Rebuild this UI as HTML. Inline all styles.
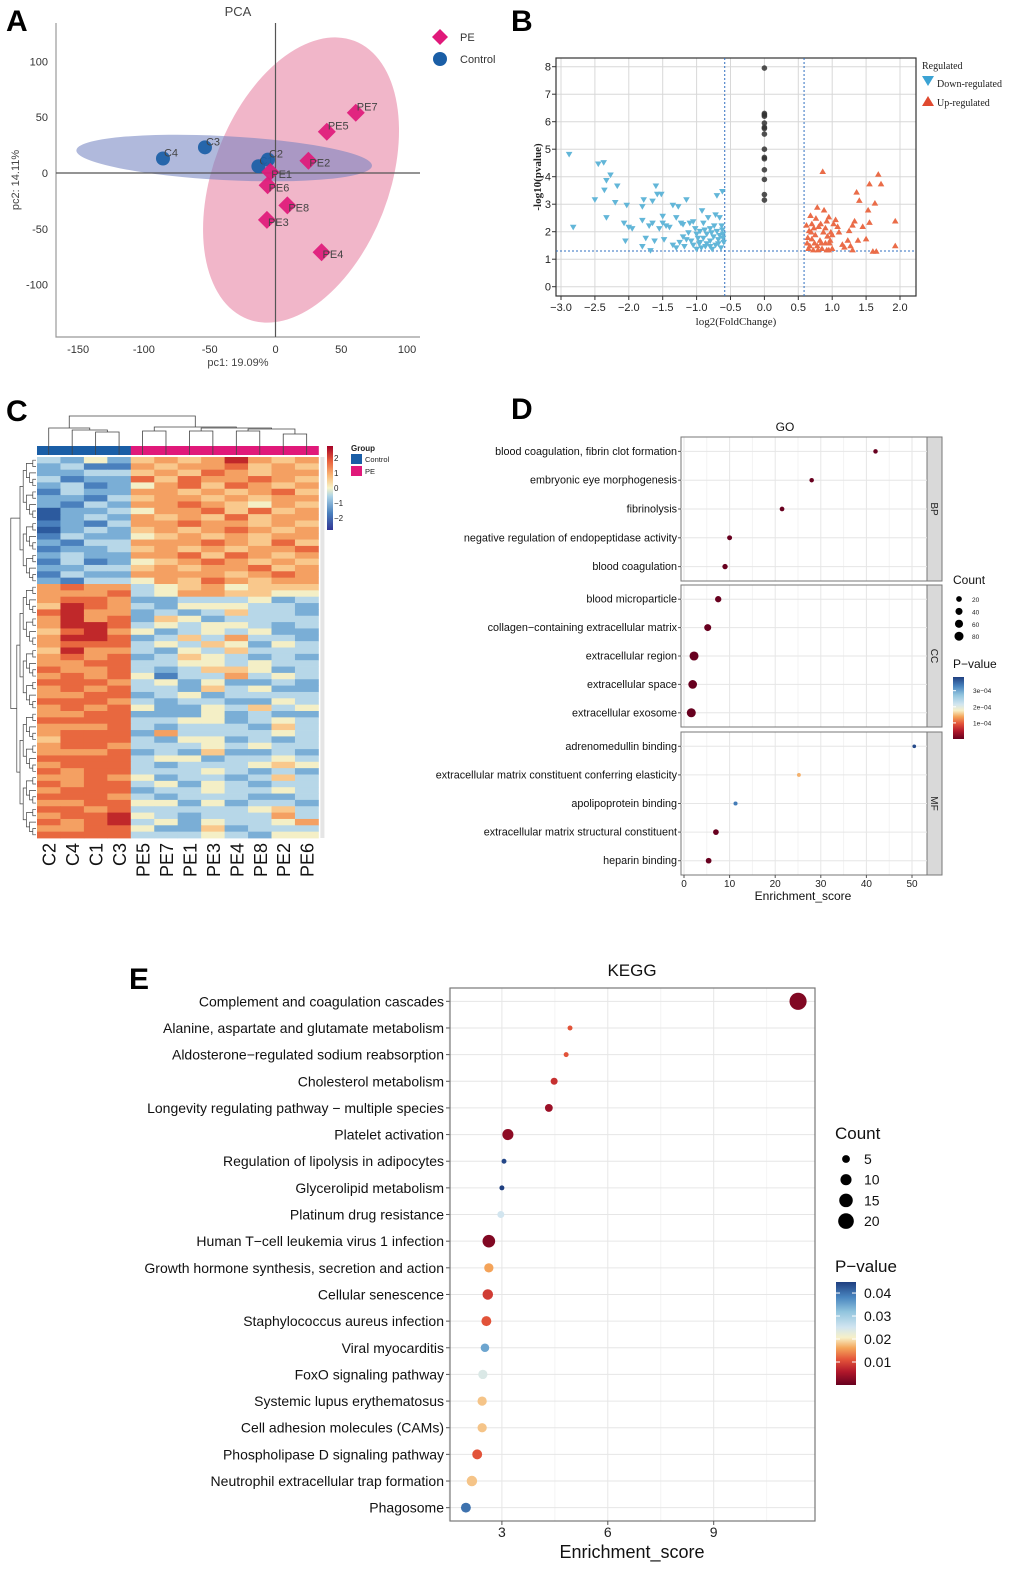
<!DOCTYPE html>
<html><head><meta charset="utf-8"><style>
html,body{margin:0;padding:0;background:#fff;}
svg{display:block;font-family:"Liberation Sans",Arial,sans-serif;}
</style></head><body>
<svg id="fig" width="1020" height="1572" viewBox="0 0 1020 1572" xmlns="http://www.w3.org/2000/svg">
<defs>
<linearGradient id="gHeat" x1="0" y1="1" x2="0" y2="0">
<stop offset="0" stop-color="#313695"/><stop offset="0.2" stop-color="#4a80bd"/><stop offset="0.4" stop-color="#abd2e6"/><stop offset="0.5" stop-color="#f7f3c8"/><stop offset="0.65" stop-color="#f9b877"/><stop offset="0.82" stop-color="#e8603c"/><stop offset="1" stop-color="#a50026"/>
</linearGradient>
<linearGradient id="gP" x1="0" y1="1" x2="0" y2="0">
<stop offset="0" stop-color="#67001f"/><stop offset="0.13" stop-color="#b2182b"/><stop offset="0.25" stop-color="#e4553a"/><stop offset="0.36" stop-color="#f4a55a"/><stop offset="0.46" stop-color="#f7f0c8"/><stop offset="0.56" stop-color="#d1e5f0"/><stop offset="0.71" stop-color="#92c5de"/><stop offset="0.85" stop-color="#4a86c0"/><stop offset="1" stop-color="#1f3f80"/>
</linearGradient>
</defs>
<g font-weight="bold" font-size="30" fill="#000">
<text x="6" y="31">A</text>
<text x="511" y="31">B</text>
<text x="6" y="421">C</text>
<text x="511" y="419">D</text>
<text x="129" y="989">E</text>
</g>
</svg>
<script>
const NS='http://www.w3.org/2000/svg';
const svg=document.getElementById('fig');
function mk(tag,attrs,parent){const e=document.createElementNS(NS,tag);for(const k in attrs)e.setAttribute(k,attrs[k]);(parent||svg).appendChild(e);return e;}
function tx(x,y,s,attrs,parent){const t=mk('text',Object.assign({x:x,y:y},attrs||{}),parent);t.textContent=s;return t;}
function grp(name){const g=mk('g',{});


return g;}

/* ================= PANEL A : PCA ================= */
const pcaNames=['C1','C2','C3','C4','PE1','PE2','PE3','PE4','PE5','PE6','PE7','PE8'];
const pcaGroup=['Control','Control','Control','Control','PE','PE','PE','PE','PE','PE','PE','PE'];
const pcaPC1=[-13,-5.7,-53.6,-85.5,-4,25,-6.5,35,39,-6,61,9];
const pcaPC2=[6,12,23,13,1,11,-42,-71,37,-11,54,-29];
const pcaXTicks=[-150,-100,-50,0,50,100];
const pcaYTicks=[100,50,0,-50,-100];
const pcaEllCenterX=[-39,19.4];
const pcaEllCenterY=[13.4,-6.3];
(function(){
const g=grp('pca-chart');
const xA=v=>275.5+v*1.316, yA=v=>173-v*1.116;
tx(238,16,'PCA',{'font-size':13,fill:'#444','text-anchor':'middle'},g);
const ax=mk('path',{d:'M56,23 V337 H420',fill:'none',stroke:'#999','stroke-width':1.2},g);


pcaXTicks.forEach(v=>{const t=tx(xA(v),353,String(v),{'font-size':11,fill:'#333','text-anchor':'middle'},g);
});
pcaYTicks.forEach(v=>{const t=tx(48,yA(v)+4,String(v),{'font-size':11,fill:'#333','text-anchor':'end'},g);
});
const xt=tx(238,366,'pc1: 19.09%',{'font-size':11,fill:'#444','text-anchor':'middle'},g);

const yt=tx(0,0,'pc2: 14.11%',{'font-size':11,fill:'#444','text-anchor':'middle',transform:'translate(19,180) rotate(-90)'},g);

const ep=mk('ellipse',{cx:xA(pcaEllCenterX[1]),cy:yA(pcaEllCenterY[1]),rx:88,ry:149,fill:'#e889a8','fill-opacity':0.62,transform:`rotate(21 ${xA(pcaEllCenterX[1])} ${yA(pcaEllCenterY[1])})`},g);

const eb=mk('ellipse',{cx:xA(pcaEllCenterX[0]),cy:yA(pcaEllCenterY[0]),rx:148,ry:22,fill:'#6f80c0','fill-opacity':0.55,transform:`rotate(3 ${xA(pcaEllCenterX[0])} ${yA(pcaEllCenterY[0])})`},g);

const z1=mk('line',{x1:xA(0),y1:23,x2:xA(0),y2:337,stroke:'#555','stroke-width':1.2},g);

const z2=mk('line',{x1:56,y1:yA(0),x2:420,y2:yA(0),stroke:'#555','stroke-width':1.2},g);

pcaNames.forEach((n,i)=>{const x=xA(pcaPC1[i]),y=yA(pcaPC2[i]);let m;
if(pcaGroup[i]==='PE'){m=mk('polygon',{points:`${x},${y-9} ${x+9},${y} ${x},${y+9} ${x-9},${y}`,fill:'#e0197a','fill-opacity':0.92},g);}
else{m=mk('circle',{cx:x,cy:y,r:7,fill:'#1a5ea6','fill-opacity':0.92},g);}


const l=tx(x+1,y-2+(pcaGroup[i]==='PE'&&pcaPC2[i]<20?8:0),n,{'font-size':11,fill:'#444'},g);
});
const lg=grp('pca-legend');
mk('polygon',{points:'440,29 448,37 440,45 432,37',fill:'#e0197a'},lg);
tx(460,41,'PE',{'font-size':11,fill:'#333'},lg);
mk('circle',{cx:440,cy:59,r:7,fill:'#1a5ea6'},lg);
tx(460,63,'Control',{'font-size':11,fill:'#333'},lg);
})();

/* ================= PANEL B : VOLCANO ================= */
const volDownX=[-2.88,-2.82,-2.5,-2.45,-2.37,-2.36,-2.33,-2.33,-2.27,-2.2,-2.17,-2.03,-2.07,-2.05,-2.0,-1.95,-1.8,-1.8,-1.78,-1.75,-1.8,-1.7,-1.68,-1.65,-1.65,-1.62,-1.6,-1.58,-1.55,-1.52,-1.5,-1.5,-1.48,-1.45,-1.4,-1.35,-1.3,-1.3,-1.27,-1.25,-1.23,-1.2,-1.15,-1.15,-1.1,-1.05,-1.05,-1.0,-1.0,-0.95,-0.95,-0.92,-0.9,-0.9,-0.87,-0.85,-0.83,-0.8,-0.8,-0.77,-0.75,-0.72,-0.72,-0.7,-0.7,-0.68,-0.66,-0.64,-0.63,-0.62,-0.61,-0.6,-1.12,-1.08,-0.98,-0.93,-0.85,-0.78,-0.66,-1.18,-1.35,-1.02,-0.88,-0.74,-0.62,-0.96,-1.2,-0.8,-0.68,-0.61];
const volDownY=[4.8,2.15,3.15,4.45,4.5,3.5,3.85,2.5,4.05,3.05,3.65,2.95,2.3,1.65,2.15,2.1,2.4,2.9,3.15,1.75,1.45,2.2,1.3,2.3,3.1,1.65,3.65,3.35,2.1,3.35,2.55,2.3,1.7,2.2,2.15,2.95,2.5,1.4,2.9,1.6,2.3,1.8,3.15,1.7,2.3,2.35,1.5,1.9,1.35,2.0,1.6,2.75,1.75,2.3,1.45,1.9,2.5,1.65,2.1,1.35,1.8,2.6,1.5,2.0,3.3,1.7,2.5,1.4,2.2,3.45,1.9,1.6,1.95,1.65,1.75,1.4,1.55,1.95,1.85,1.45,1.5,2.1,2.05,2.2,2.05,1.55,2.25,1.45,1.55,1.75];
const volUpX=[0.62,0.63,0.65,0.66,0.68,0.7,0.7,0.72,0.73,0.75,0.76,0.78,0.78,0.8,0.82,0.83,0.85,0.86,0.87,0.88,0.9,0.92,0.93,0.95,0.95,0.97,0.98,1.0,1.0,1.02,1.05,1.08,1.1,1.15,1.18,1.23,1.25,1.27,1.3,1.3,1.33,1.36,1.38,1.4,1.45,1.5,1.53,1.55,1.55,1.6,1.63,1.65,1.68,1.72,1.93,1.93,0.64,0.67,0.74,0.79,0.84,0.9,0.96,0.69,0.92];
const volUpY=[2.25,1.6,1.4,2.05,2.6,1.75,2.3,1.35,2.15,1.9,2.5,2.9,1.5,2.2,1.7,2.3,1.4,4.2,2.0,2.8,1.6,2.4,1.85,1.35,2.55,1.7,2.0,1.4,1.9,2.3,2.45,2.2,2.0,1.55,1.45,1.7,2.05,1.5,1.35,2.25,2.4,3.45,1.7,3.15,2.2,1.75,2.8,2.35,3.75,1.3,3.05,1.3,4.1,3.75,2.4,1.5,1.8,1.5,1.6,1.35,1.6,2.15,1.6,2.0,1.35];
const volNoneY=[7.95,6.3,6.25,6.2,5.95,5.8,5.75,5.55,5.0,4.7,4.65,4.25,3.9,3.35,3.15];
const volXTicks=[-3.0,-2.5,-2.0,-1.5,-1.0,-0.5,0.0,0.5,1.0,1.5,2.0];
const volYTicks=[0,1,2,3,4,5,6,7,8];
(function(){
const g=grp('volcano-chart');
const xB=v=>764.4+v*67.8, yB=v=>286.7-v*27.5;
const L=556,R=916,T=58,Bt=296;
volXTicks.forEach(v=>{const l=mk('line',{x1:xB(v),y1:T,x2:xB(v),y2:Bt,stroke:'#d8d8d8','stroke-width':1},g);
});
volYTicks.forEach(v=>{const l=mk('line',{x1:L,y1:yB(v),x2:R,y2:yB(v),stroke:'#d8d8d8','stroke-width':1},g);
});
const fr=mk('rect',{x:L,y:T,width:R-L,height:Bt-T,fill:'none',stroke:'#333','stroke-width':1.2},g);

volXTicks.forEach(v=>{mk('line',{x1:xB(v),y1:Bt,x2:xB(v),y2:Bt+4,stroke:'#333'},g);
const t=tx(xB(v),311,v.toFixed(1).replace('-','\u2212'),{'font-size':11,fill:'#222','text-anchor':'middle'},g);
});
volYTicks.forEach(v=>{mk('line',{x1:L-4,y1:yB(v),x2:L,y2:yB(v),stroke:'#333'},g);
const t=tx(551,yB(v)+4,String(v),{'font-size':11,fill:'#222','text-anchor':'end'},g);
});
const xt=tx(736,325,'log2(FoldChange)',{'font-size':11,fill:'#222','text-anchor':'middle','font-family':'Liberation Serif,serif'},g);

const yt=tx(0,0,'-log10(pvalue)',{'font-size':11,fill:'#222','text-anchor':'middle','font-family':'Liberation Serif,serif','font-weight':'bold',transform:'translate(541,177) rotate(-90)'},g);

[[-0.585,'v'],[0.585,'v'],[1.3,'h']].forEach(([v,o])=>{const l=o==='v'?mk('line',{x1:xB(v),y1:T,x2:xB(v),y2:Bt,stroke:'#2f6fc0','stroke-dasharray':'2,2','stroke-width':1},g):mk('line',{x1:L,y1:yB(v),x2:R,y2:yB(v),stroke:'#2f6fc0','stroke-dasharray':'2,2','stroke-width':1},g);
});
volDownX.forEach((v,i)=>{const x=xB(v),y=yB(volDownY[i]);const p=mk('polygon',{points:`${x-3.3},${y-2.8} ${x+3.3},${y-2.8} ${x},${y+2.8}`,fill:'#62b6d8'},g);
});
volUpX.forEach((v,i)=>{const x=xB(v),y=yB(volUpY[i]);const p=mk('polygon',{points:`${x-3.3},${y+2.8} ${x+3.3},${y+2.8} ${x},${y-2.8}`,fill:'#ea6c48'},g);
});
volNoneY.forEach(v=>{const c=mk('circle',{cx:xB(0),cy:yB(v),r:2.8,fill:'#333','fill-opacity':0.85},g);
});
const lg=grp('volcano-legend');
tx(922,69,'Regulated',{'font-size':10,'font-family':'Liberation Serif,serif',fill:'#222'},lg);
mk('polygon',{points:'922,76 934,76 928,86',fill:'#3ba3d4'},lg);
tx(937,87,'Down-regulated',{'font-size':10,'font-family':'Liberation Serif,serif',fill:'#222'},lg);
mk('polygon',{points:'922,106 934,106 928,96',fill:'#e04a30'},lg);
tx(937,106,'Up-regulated',{'font-size':10,'font-family':'Liberation Serif,serif',fill:'#222'},lg);
})();

/* ================= PANEL C : HEATMAP ================= */
const heatCols=['C2','C4','C1','C3','PE5','PE7','PE1','PE3','PE4','PE8','PE2','PE6'];
const heatColGroup=['Control','Control','Control','Control','PE','PE','PE','PE','PE','PE','PE','PE'];
const heatRows=["324256568656","231165667565","223356576566","312275766765","231246757656","132266565675","221356656566","213266765465","022346675756","023265657566","121366766565","023256567656","132245656566","213366676575","122356565667","232266757656","131245676565","223356566756","132266665676","213346576566","676634564555","666734665544","677622333423","587632444332","786623235332","686725423333","688734344323","578642343422","688723536332","677734354243","586632435333","676723543232","667733443433","766732355423","676741336343","777634242232","676733253422","667723423333","777632332243","676742243534","667722242322","777733442343","666732333253","677726333343","577732442323","677633343433","666723252232","777734423343","677732333454","767733343232","667642332353","767734243233","677723343343","777632333223","667744242332","776733333453","677843233363","767834243346","667742252333","777733343244"];
const heatLegendTicks=[2,1,0,-1,-2];
(function(){
const g=grp('heatmap-chart');
const pal=['#2c5a9e','#4a80bd','#7aaed6','#b7d7e8','#f4efc6','#f9c88c','#f4a062','#e8683f','#c0282a'];
const x0=37,cw=23.45,y0=457,rh=(838-457)/heatRows.length;
heatRows.forEach((row,r)=>{for(let c=0;c<heatCols.length;c++){const lv=parseInt(row[c],10);
const cell=mk('rect',{x:x0+c*cw,y:y0+r*rh,width:cw+0.4,height:rh+0.4,fill:pal[lv]},g);
}});
const tag=mk('rect',{x:x0+heatCols.length*cw+2,y:y0,width:4,height:838-y0,fill:'#ccc','fill-opacity':0.5},g);

heatCols.forEach((n,c)=>{const b=mk('rect',{x:x0+c*cw,y:446,width:cw+0.4,height:9,fill:heatColGroup[c]==='PE'?'#e0197a':'#1a5ea6'},g);

const cx=x0+c*cw+cw/2;
const t=tx(0,0,n,{'font-size':18,fill:'#111','text-anchor':'end',transform:`translate(${cx+7},843) rotate(-90)`},g);
});
const cc=i=>x0+i*cw+cw/2;
const d='M'+cc(2)+',455V432H'+cc(3)+'V455 M'+cc(1)+',455V430H'+((cc(2)+cc(3))/2)+'V432 M'+cc(0)+',455V428H'+((cc(1)+(cc(2)+cc(3))/2)/2)+'V430'+
' M'+cc(4)+',455V431H'+cc(5)+'V455 M'+cc(6)+',455V431H'+cc(7)+'V455 M'+cc(8)+',455V431H'+cc(9)+'V455 M'+cc(10)+',455V434H'+cc(11)+'V455'+
' M'+((cc(8)+cc(9))/2)+',431V429H'+((cc(10)+cc(11))/2)+'V434 M'+((cc(6)+cc(7))/2)+',431V428H'+((((cc(8)+cc(9))/2)+((cc(10)+cc(11))/2))/2)+'V429'+
' M'+((cc(4)+cc(5))/2)+',431V427H'+(((cc(6)+cc(7))/2+(((cc(8)+cc(9))/2)+((cc(10)+cc(11))/2))/2)/2)+'V428'+
' M'+((cc(0)+(cc(1)+(cc(2)+cc(3))/2)/2)/2)+',428V416H'+(((cc(4)+cc(5))/2+(((cc(6)+cc(7))/2+(((cc(8)+cc(9))/2)+((cc(10)+cc(11))/2))/2)/2))/2)+'V427';
const dp=mk('path',{d:d,fill:'none',stroke:'#444','stroke-width':0.8},g);

let rd='';
function node(lo,hi,depth){if(hi-lo===1){return {x:36,y:y0+(lo+0.5)*rh};}
const mid=depth===0?20:Math.floor((lo+hi)/2);const a=node(lo,mid,depth+1),b=node(mid,hi,depth+1);
const x=Math.min(a.x,b.x)-(depth===0?6:3.2);rd+=`M${a.x},${a.y}H${x}V${b.y}H${b.x}`;return {x:x,y:(a.y+b.y)/2};}
node(0,heatRows.length,0);
const rp=mk('path',{d:rd,fill:'none',stroke:'#444','stroke-width':0.7},g);

const lg=grp('heatmap-legend');
mk('rect',{x:327,y:446,width:6,height:84,fill:'url(#gHeat)'},lg);
heatLegendTicks.forEach(v=>{const t=tx(334,488-v*15+3,v<0?'\u2212'+(-v):String(v),{'font-size':8,fill:'#222'},lg);
});
tx(351,451,'Group',{'font-size':8,'font-weight':'bold',fill:'#222'},lg);
mk('rect',{x:351,y:454,width:11,height:10,fill:'#1a5ea6'},lg);
tx(365,462,'Control',{'font-size':7.5,fill:'#222'},lg);
mk('rect',{x:351,y:466,width:11,height:10,fill:'#e0197a'},lg);
tx(365,474,'PE',{'font-size':7.5,fill:'#222'},lg);
})();

const pStops=[[0,[103,0,31]],[0.13,[178,24,43]],[0.25,[228,85,58]],[0.36,[244,165,90]],[0.46,[247,240,200]],[0.56,[209,229,240]],[0.71,[146,197,222]],[0.85,[74,134,192]],[1,[31,63,128]]];
function pColor(t){t=Math.max(0,Math.min(1,t));for(let i=1;i<pStops.length;i++){if(t<=pStops[i][0]){const a=pStops[i-1],b=pStops[i];const f=(t-a[0])/(b[0]-a[0]);const c=a[1].map((v,k)=>Math.round(v+(b[1][k]-v)*f));return `rgb(${c.join(',')})`;}}return 'rgb(31,63,128)';}

/* ================= PANEL D : GO ================= */
const goTerms=['blood coagulation, fibrin clot formation','embryonic eye morphogenesis','fibrinolysis','negative regulation of endopeptidase activity','blood coagulation','blood microparticle','collagen\u2212containing extracellular matrix','extracellular region','extracellular space','extracellular exosome','adrenomedullin binding','extracellular matrix constituent conferring elasticity','apolipoprotein binding','extracellular matrix structural constituent','heparin binding'];
const goCategory=['BP','BP','BP','BP','BP','CC','CC','CC','CC','CC','MF','MF','MF','MF','MF'];
const goScore=[42,28,21.5,10,9,7.5,5.2,2.2,1.9,1.6,50.5,25.2,11.3,7,5.4];
const goCount=[8,8,10,12,16,28,38,80,72,80,3,4,5,20,20];
const goPvalue=[1e-6,1e-6,1e-6,1e-6,1e-6,1e-6,1e-6,1e-7,1e-7,1e-7,3.75e-4,1.45e-4,3.35e-4,1e-6,1e-6];
const goXTicks=[0,10,20,30,40,50];
const goCountLegend=[20,40,60,80];
const goPTicks=[3e-4,2e-4,1e-4];
(function(){
const g=grp('go-chart');
const xD=v=>684+v*4.56;
const L=681,R=927;
const panels={BP:[437,581],CC:[585,727],MF:[732,875]};
tx(785,431,'GO',{'font-size':12,fill:'#111','text-anchor':'middle'},g);
Object.keys(panels).forEach(k=>{const [t,b]=panels[k];
const pn=grp('go-facet-'+k.toLowerCase());g.appendChild(pn);
for(let v=5;v<=55;v+=10){if(xD(v)<R)mk('line',{x1:xD(v),y1:t,x2:xD(v),y2:b,stroke:'#f3f3f3'},pn);}
goXTicks.forEach(v=>mk('line',{x1:xD(v),y1:t,x2:xD(v),y2:b,stroke:'#e6e6e6'},pn));
mk('rect',{x:L,y:t,width:R-L,height:b-t,fill:'none',stroke:'#777','stroke-width':1},pn);
mk('rect',{x:R,y:t,width:15,height:b-t,fill:'#d9d9d9',stroke:'#777','stroke-width':1},pn);
tx(0,0,k,{'font-size':10,fill:'#222','text-anchor':'middle',transform:`translate(931,${(t+b)/2}) rotate(90)`},pn);});
const rowY=[];['BP','CC','MF'].forEach(k=>{const [t,b]=panels[k];const step=(b-t)/5;for(let i=0;i<5;i++)rowY.push(t+step*(i+0.5));});
goTerms.forEach((term,i)=>{const y=rowY[i];
mk('line',{x1:L,y1:y,x2:R,y2:y,stroke:'#e6e6e6'},g);
mk('line',{x1:L-3,y1:y,x2:L,y2:y,stroke:'#555'},g);
const t=tx(L-4,y+3.5,term,{'font-size':10.8,fill:'#111','text-anchor':'end'},g);
});
goTerms.forEach((term,i)=>{const c=mk('circle',{cx:xD(goScore[i]),cy:rowY[i],r:1.2+0.37*Math.sqrt(goCount[i]),fill:pColor(goPvalue[i]/3.85e-4)},g);

});
goXTicks.forEach(v=>{mk('line',{x1:xD(v),y1:875,x2:xD(v),y2:878,stroke:'#555'},g);
const t=tx(xD(v),887,String(v),{'font-size':10,fill:'#222','text-anchor':'middle'},g);
});
tx(803,900,'Enrichment_score',{'font-size':12,fill:'#111','text-anchor':'middle'},g);
const lg=grp('go-legend');
tx(953,584,'Count',{'font-size':12,fill:'#111'},lg);
goCountLegend.forEach((c,i)=>{mk('circle',{cx:959,cy:599+i*12.4,r:1.2+0.37*Math.sqrt(c),fill:'#000'},lg);
tx(972,602+i*12.4,String(c),{'font-size':6.5,fill:'#222'},lg);});
tx(953,668,'P\u2212value',{'font-size':12,fill:'#111'},lg);
mk('rect',{x:953,y:677,width:11,height:62,fill:'url(#gP)'},lg);
goPTicks.forEach(v=>{const y=739-v/3.85e-4*62;mk('line',{x1:953,y1:y,x2:956,y2:y,stroke:'#fff'},lg);
tx(973,y+2.5,v.toExponential(0).replace('e-4','e\u221204'),{'font-size':6.5,fill:'#222'},lg);});
})();

/* ================= PANEL E : KEGG ================= */
const keggTerms=['Complement and coagulation cascades','Alanine, aspartate and glutamate metabolism','Aldosterone\u2212regulated sodium reabsorption','Cholesterol metabolism','Longevity regulating pathway \u2212 multiple species','Platelet activation','Regulation of lipolysis in adipocytes','Glycerolipid metabolism','Platinum drug resistance','Human T\u2212cell leukemia virus 1 infection','Growth hormone synthesis, secretion and action','Cellular senescence','Staphylococcus aureus infection','Viral myocarditis','FoxO signaling pathway','Systemic lupus erythematosus','Cell adhesion molecules (CAMs)','Phospholipase D signaling pathway','Neutrophil extracellular trap formation','Phagosome'];
const keggScore=[11.39,4.93,4.82,4.48,4.33,3.17,3.06,3.0,2.97,2.63,2.63,2.6,2.56,2.52,2.46,2.44,2.44,2.3,2.15,1.98];
const keggCount=[24,2,2,4,5,10,2,2,4,13,7,9,8,6,7,7,7,8,9,8];
const keggPvalue=[0.002,0.011,0.011,0.008,0.004,0.003,0.044,0.045,0.025,0.002,0.016,0.009,0.011,0.035,0.024,0.018,0.018,0.011,0.018,0.04];
const keggXTicks=[3,6,9];
const keggCountLegend=[5,10,15,20];
const keggPTicks=[0.04,0.03,0.02,0.01];
(function(){
const g=grp('kegg-chart');
const xE=v=>396+v*35.3;
const L=450,R=815,T=988,B=1521;
tx(632,976,'KEGG',{'font-size':17,fill:'#111','text-anchor':'middle'},g);
[1.5,4.5,7.5,10.5].forEach(v=>mk('line',{x1:xE(v),y1:T,x2:xE(v),y2:B,stroke:'#f4f4f4'},g));
keggXTicks.forEach(v=>mk('line',{x1:xE(v),y1:T,x2:xE(v),y2:B,stroke:'#e6e6e6'},g));
const step=(B-T)/keggTerms.length;
keggTerms.forEach((term,i)=>{const y=T+step*(i+0.5);
mk('line',{x1:L,y1:y,x2:R,y2:y,stroke:'#e6e6e6'},g);
mk('line',{x1:L-4,y1:y,x2:L,y2:y,stroke:'#555'},g);
const t=tx(L-6,y+5,term,{'font-size':14,fill:'#111','text-anchor':'end'},g);
});
const fr=mk('rect',{x:L,y:T,width:R-L,height:B-T,fill:'none',stroke:'#777','stroke-width':1.2},g);

keggTerms.forEach((term,i)=>{const c=mk('circle',{cx:xE(keggScore[i]),cy:T+step*(i+0.5),r:1.75*Math.sqrt(keggCount[i]),fill:pColor(keggPvalue[i]/0.0448)},g);

});
keggXTicks.forEach(v=>{mk('line',{x1:xE(v),y1:B,x2:xE(v),y2:B+4,stroke:'#555'},g);
const t=tx(xE(v),1537,String(v),{'font-size':14,fill:'#222','text-anchor':'middle'},g);
});
tx(632,1558,'Enrichment_score',{'font-size':18,fill:'#111','text-anchor':'middle'},g);
const lg=grp('kegg-legend');
tx(835,1139,'Count',{'font-size':17,fill:'#111'},lg);
keggCountLegend.forEach((c,i)=>{mk('circle',{cx:846,cy:1159+i*20.7,r:1.75*Math.sqrt(c),fill:'#000'},lg);
tx(864,1164+i*20.7,String(c),{'font-size':14,fill:'#111'},lg);});
tx(835,1272,'P\u2212value',{'font-size':17,fill:'#111'},lg);
mk('rect',{x:836,y:1282,width:20,height:103,fill:'url(#gP)'},lg);
keggPTicks.forEach(v=>{const y=1385-v/0.0448*103;mk('line',{x1:836,y1:y,x2:840,y2:y,stroke:'#fff'},lg);mk('line',{x1:852,y1:y,x2:856,y2:y,stroke:'#fff'},lg);
tx(864,y+5,v.toFixed(2),{'font-size':14,fill:'#111'},lg);});
})();
</script>
</body></html>
